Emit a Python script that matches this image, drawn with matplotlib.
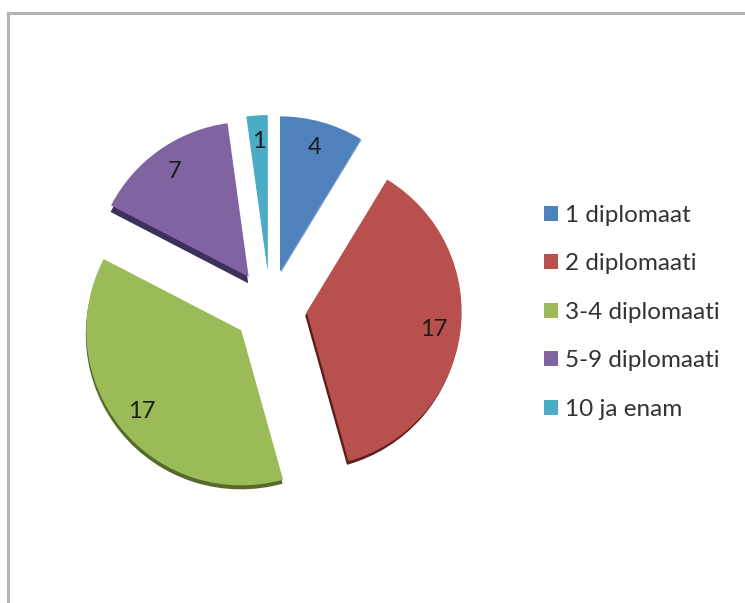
import matplotlib
matplotlib.use("Agg")
import matplotlib.pyplot as plt

# Number of pupils by diplomas earned
categories = ["1 diplomaat", "2 diplomaati", "3-4 diplomaati", "5-9 diplomaati", "10 ja enam"]
values = [4, 17, 17, 7, 1]

colors = ["#4f81bd", "#b8504d", "#9bbb59", "#8064a2", "#4bacc6"]
side_colors = ["#6f9bcd", "#5c1f1d", "#566b2a", "#3f2f5c", "#7cc4d8"]
side_shift = [(1.0, -1.0), (-1.5, -3.5), (-0.5, -4.0), (-0.5, -6.5), (0.5, -0.5)]

WIDTH, HEIGHT = 745, 603
CENTER = (270, HEIGHT - 307)
RADIUS = 155
EXPLODE = [37] * len(values)

plt.rcParams["font.family"] = ["Lato", "DejaVu Sans"]

fig = plt.figure(figsize=(WIDTH / 100, HEIGHT / 100), dpi=100)
ax = fig.add_axes([0, 0, 1, 1])

pie_args = dict(startangle=90, counterclock=False, explode=EXPLODE,
                center=CENTER, radius=RADIUS)

# Thick side of each slice, drawn under the top faces
side_wedges, _ = ax.pie(values, colors=side_colors, **pie_args)
for wedge, (dx, dy) in zip(side_wedges, side_shift):
    cx, cy = wedge.center
    wedge.set_center((cx + dx, cy + dy))

wedges, texts = ax.pie(values, colors=colors, labels=[str(v) for v in values],
                       labeldistance=0.83, **pie_args)
for text in texts:
    text.set_ha("center")
    text.set_va("center")
    text.set_fontsize(17)
    text.set_color("#1c1c1c")

ax.set_xlim(0, WIDTH)
ax.set_ylim(0, HEIGHT)
ax.set_aspect("equal")
ax.axis("off")

ax.legend(wedges, categories, loc="upper left", bbox_to_anchor=(544 / WIDTH, 1 - 205 / HEIGHT),
          bbox_transform=ax.transAxes, frameon=False, fontsize=17.5, labelcolor="#333333",
          handlelength=0.58, handleheight=0.58, handletextpad=0.29, labelspacing=1.13,
          borderpad=0, borderaxespad=0)

# Grey chart border, open at the right and bottom
ax.plot([8, 8, WIDTH], [0, HEIGHT - 13, HEIGHT - 13], color="#b4b4b4", lw=2.2,
        solid_joinstyle="miter", clip_on=False)

fig.savefig("out.png", dpi=100)
